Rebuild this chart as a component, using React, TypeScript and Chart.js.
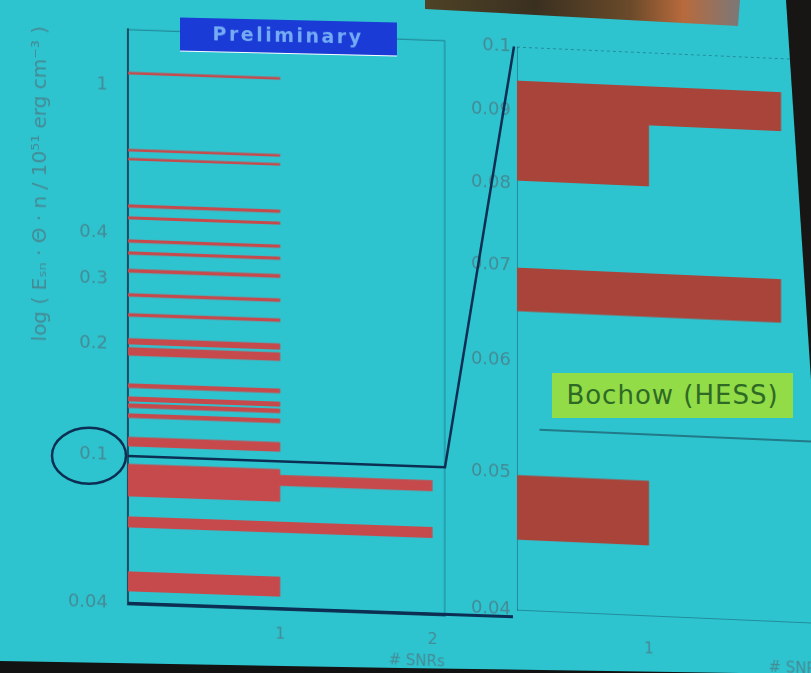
import React, { useEffect, useRef } from "react";
import { Chart, registerables } from "chart.js";

Chart.register(...registerables);

// ---------- data ----------
// Left panel ("Preliminary"): histogram bins on a log axis, count = # SNRs
const leftLow = [0.0431, 0.0641, 0.0777, 0.0859, 0.092, 0.1061, 0.1266, 0.1348, 0.1407, 0.1526, 0.1867, 0.2, 0.2379, 0.2694, 0.313, 0.35, 0.377, 0.436, 0.469, 0.63, 0.665, 1.074];
const leftHigh = [0.0488, 0.0687, 0.0859, 0.092, 0.0954, 0.1129, 0.1306, 0.139, 0.1451, 0.1574, 0.1975, 0.2088, 0.2439, 0.2762, 0.321, 0.358, 0.386, 0.445, 0.48, 0.641, 0.678, 1.094];
const leftCount = [1, 2, 1, 2, 1, 1, 1, 1, 1, 1, 1, 1, 1, 1, 1, 1, 1, 1, 1, 1, 1, 1];

// Right panel (Bochow, HESS): zoom on 0.04 - 0.1
const hessLow = [0.0448, 0.065, 0.0804, 0.0888];
const hessHigh = [0.0498, 0.0698, 0.0888, 0.0946];
const hessCount = [1, 2, 1, 2];

// axes
const leftYTicks = [0.04, 0.1, 0.2, 0.3, 0.4, 1];
const leftYLabels = ["0.04", "0.1", "0.2", "0.3", "0.4", "1"];
const leftXTicks = [1, 2];
const leftXLabels = ["1", "2"];
const hessYTicks = [0.04, 0.05, 0.06, 0.07, 0.08, 0.09, 0.1];
const hessYLabels = ["0.04", "0.05", "0.06", "0.07", "0.08", "0.09", "0.1"];
const hessXTicks = [1];
const hessXLabels = ["1"];
const leftYRange = [0.04, 1.425];
const leftXRange = [0, 2.08];
const hessYRange = [0.04, 0.1];
const hessXRange = [0, 2.33];
const zoomLow = 0.04;
const zoomHigh = 0.1;
const bochowLevel = 0.0537;
const bochowStart = 0.17;

const yTitle = "log ( E\u209B\u2099 \u00B7 \u0398 \u00B7 n / 10\u2075\u00B9 erg cm\u207B\u00B3 )";
const xTitle = "# SNRs";

// ---------- style ----------
const BG = "#2dc4d0";
const FONT = "DejaVu Sans";
const TICK = "#448a94";
const NAVY = "#0c2e52";
const LEFT_BAR = "#c64a4c";
const RIGHT_BAR = "#a9443a";
const RIGHT_OFFSET = 460;
// the photographed slide is slightly sheared
const LEFT_SKEW = 2.0;
const LEFT_ORIGIN_X = 175;
const RIGHT_SKEW = 2.5;
const RIGHT_ORIGIN_X = 640;
const tL = Math.tan((LEFT_SKEW * Math.PI) / 180);
const tR = Math.tan((RIGHT_SKEW * Math.PI) / 180);
const mapL = (x: number, y: number): [number, number] => [x, y + (x - LEFT_ORIGIN_X) * tL];
const mapR = (x: number, y: number): [number, number] => [x, y + (x - RIGHT_ORIGIN_X) * tR];

// one stepped, filled outline per run of touching bins (no seams between them)
function barDatasets(lo: number[], hi: number[], cnt: number[], color: string) {
  const groups: { x: number; y: number }[][] = [];
  lo.forEach((l, i) => {
    const touching = i > 0 && Math.abs(l - hi[i - 1]) < 1e-9;
    const pts = [
      { x: cnt[i], y: l },
      { x: cnt[i], y: hi[i] },
    ];
    if (touching) groups[groups.length - 1].push(...pts);
    else groups.push(pts);
  });
  return groups.map((data) => ({
    data,
    backgroundColor: color,
    borderColor: color,
    borderWidth: 0,
    pointRadius: 0,
    pointHoverRadius: 0,
    tension: 0,
    fill: "origin",
  }));
}

const framePlugin = (color: string, dash: number[]) => ({
  id: "frame",
  afterDraw(chart: any) {
    const { ctx, chartArea: a } = chart;
    ctx.save();
    ctx.strokeStyle = color;
    ctx.lineWidth = 1;
    ctx.setLineDash(dash);
    ctx.beginPath();
    ctx.moveTo(a.left, a.top + 0.5);
    ctx.lineTo(a.right, a.top + 0.5);
    ctx.lineTo(a.right, a.bottom);
    ctx.stroke();
    ctx.restore();
  },
});

function tickSetter(values: number[]) {
  return (axis: any) => {
    axis.ticks = values.map((v) => ({ value: v }));
  };
}
function labeler(values: number[], labels: string[]) {
  return (v: any) => {
    const i = values.findIndex((t) => Math.abs(t - Number(v)) < 1e-9);
    return i >= 0 ? labels[i] : "";
  };
}

function drawOverlay(cv: HTMLCanvasElement, left: any, right: any) {
  const ctx = cv.getContext("2d")!;
  ctx.clearRect(0, 0, cv.width, cv.height);
  const la = left.chartArea;
  const ra = right.chartArea;
  const ly = left.scales.y;
  const lx = left.scales.x;
  const ry = right.scales.y;
  const rx = right.scales.x;
  const line = (pts: [number, number][], w: number, color: string) => {
    ctx.strokeStyle = color;
    ctx.lineWidth = w;
    ctx.lineJoin = "miter";
    ctx.beginPath();
    pts.forEach(([x, y], i) => (i ? ctx.lineTo(x, y) : ctx.moveTo(x, y)));
    ctx.stroke();
  };

  // faint line under the Bochow label
  line(
    [
      mapR(RIGHT_OFFSET + rx.getPixelForValue(bochowStart), ry.getPixelForValue(bochowLevel)),
      mapR(RIGHT_OFFSET + rx.getPixelForValue(rx.max), ry.getPixelForValue(bochowLevel)),
    ],
    2,
    "rgba(25,60,75,0.55)"
  );

  // zoom connector (upper)
  line(
    [
      mapL(la.left, ly.getPixelForValue(zoomHigh)),
      mapL(lx.getPixelForValue(lx.max), ly.getPixelForValue(zoomHigh)),
      mapR(RIGHT_OFFSET + ra.left - 3, ry.getPixelForValue(zoomHigh)),
    ],
    2.5,
    NAVY
  );
  // zoom connector (lower), continuing the left x axis to the right panel
  line(
    [mapL(la.left, ly.getPixelForValue(zoomLow)), mapL(RIGHT_OFFSET + ra.left - 4, ly.getPixelForValue(zoomLow))],
    3,
    NAVY
  );
  // circle around the 0.1 label
  const [cx, cy] = mapL(la.left - 39, ly.getPixelForValue(zoomHigh) + 1);
  ctx.strokeStyle = NAVY;
  ctx.lineWidth = 2.5;
  ctx.beginPath();
  ctx.ellipse(cx, cy, 37, 28, 0, 0, Math.PI * 2);
  ctx.stroke();
}

export default function App() {
  const leftRef = useRef<HTMLCanvasElement>(null);
  const rightRef = useRef<HTMLCanvasElement>(null);
  const overRef = useRef<HTMLCanvasElement>(null);

  useEffect(() => {
    const tickFont = { family: FONT, size: 18 };
    const left = new Chart(leftRef.current!, {
      type: "line",
      data: { datasets: barDatasets(leftLow, leftHigh, leftCount, LEFT_BAR) as any },
      options: {
        animation: false,
        responsive: false,
        indexAxis: "y",
        events: [],
        layout: { padding: { top: 30, right: 25, left: 0, bottom: 0 } },
        plugins: { legend: { display: false }, tooltip: { enabled: false } },
        scales: {
          x: {
            type: "linear",
            min: leftXRange[0],
            max: leftXRange[1],
            afterBuildTicks: tickSetter(leftXTicks),
            afterFit: (s: any) => {
              s.height = 68;
            },
            grid: { display: false, drawTicks: false },
            border: { display: true, color: "#123f5a", width: 3 },
            ticks: { padding: 16, color: TICK, font: { family: FONT, size: 16 }, callback: labeler(leftXTicks, leftXLabels) },
            title: { display: true, text: xTitle, align: "end", color: TICK, font: { family: FONT, size: 15 }, padding: { top: 0, bottom: 11 } },
          },
          y: {
            type: "logarithmic",
            min: leftYRange[0],
            max: leftYRange[1],
            afterBuildTicks: tickSetter(leftYTicks),
            afterFit: (s: any) => {
              s.width = 128;
            },
            grid: { display: false, drawTicks: false },
            border: { display: true, color: "#1a4a62", width: 2 },
            ticks: { padding: 20, color: TICK, font: tickFont, callback: labeler(leftYTicks, leftYLabels) },
            title: { display: true, text: yTitle, align: "end", color: TICK, font: { family: FONT, size: 20 }, padding: { top: 29, bottom: 0 } },
          },
        },
      } as any,
      plugins: [framePlugin("rgba(20,70,90,0.55)", [])],
    });

    const right = new Chart(rightRef.current!, {
      type: "line",
      data: { datasets: barDatasets(hessLow, hessHigh, hessCount, RIGHT_BAR) as any },
      options: {
        animation: false,
        responsive: false,
        indexAxis: "y",
        events: [],
        layout: { padding: { top: 52, right: 35, left: 0, bottom: 0 } },
        plugins: { legend: { display: false }, tooltip: { enabled: false } },
        scales: {
          x: {
            type: "linear",
            min: hessXRange[0],
            max: hessXRange[1],
            afterBuildTicks: tickSetter(hessXTicks),
            afterFit: (s: any) => {
              s.height = 58;
            },
            grid: { display: false, drawTicks: false },
            border: { display: true, color: "rgba(20,70,90,0.45)", width: 1, dash: [3, 3] },
            ticks: { padding: 24, color: TICK, font: { family: FONT, size: 16 }, callback: labeler(hessXTicks, hessXLabels) },
            title: { display: true, text: xTitle, align: "end", color: TICK, font: { family: FONT, size: 15 }, padding: { top: 0, bottom: 2 } },
          },
          y: {
            type: "logarithmic",
            min: hessYRange[0],
            max: hessYRange[1],
            afterBuildTicks: tickSetter(hessYTicks),
            afterFit: (s: any) => {
              s.width = 57;
            },
            grid: { display: false, drawTicks: false },
            border: { display: true, color: "rgba(20,70,90,0.45)", width: 1, dash: [3, 3] },
            ticks: { padding: 6, color: TICK, font: tickFont, callback: labeler(hessYTicks, hessYLabels) },
          },
        },
      } as any,
      plugins: [framePlugin("rgba(20,70,90,0.45)", [3, 3])],
    });

    drawOverlay(overRef.current!, left, right);

    return () => {
      left.destroy();
      right.destroy();
    };
  }, []);

  return (
    <div
      style={{
        position: "fixed",
        left: 0,
        top: 0,
        width: 811,
        height: 673,
        overflow: "hidden",
        background: BG,
      }}
    >
      <canvas
        ref={leftRef}
        width={470}
        height={673}
        style={{
          position: "absolute",
          left: 0,
          top: 0,
          transform: `skewY(${LEFT_SKEW}deg)`,
          transformOrigin: `${LEFT_ORIGIN_X}px 0px`,
        }}
      />
      <canvas
        ref={rightRef}
        width={400}
        height={673}
        style={{
          position: "absolute",
          left: RIGHT_OFFSET,
          top: 0,
          transform: `skewY(${RIGHT_SKEW}deg)`,
          transformOrigin: `${RIGHT_ORIGIN_X - RIGHT_OFFSET}px 0px`,
        }}
      />
      <canvas
        ref={overRef}
        width={811}
        height={673}
        style={{ position: "absolute", left: 0, top: 0, pointerEvents: "none" }}
      />
      <div
        style={{
          position: "absolute",
          left: 180,
          top: 20,
          width: 216,
          height: 33,
          background: "#1a3bd6",
          color: "#74abf4",
          fontFamily: FONT,
          fontSize: 19,
          fontWeight: 600,
          letterSpacing: 2.5,
          lineHeight: "31px",
          textAlign: "center",
          transform: "skewY(1.3deg)",
        }}
      >
        Preliminary
      </div>
      <div
        style={{
          position: "absolute",
          left: 552,
          top: 373,
          width: 241,
          height: 45,
          background: "#92dc48",
          color: "#2f6a25",
          fontFamily: FONT,
          fontSize: 26,
          letterSpacing: 1,
          lineHeight: "45px",
          textAlign: "center",
          whiteSpace: "nowrap",
        }}
      >
        Bochow (HESS)
      </div>
      <svg width={811} height={673} style={{ position: "absolute", left: 0, top: 0, pointerEvents: "none" }}>
        <defs>
          <linearGradient id="photo" x1="0" x2="1" y1="0" y2="0">
            <stop offset="0" stopColor="#4e4326" />
            <stop offset="0.35" stopColor="#3a3020" />
            <stop offset="0.65" stopColor="#6a4a2a" />
            <stop offset="0.82" stopColor="#b86a3c" />
            <stop offset="1" stopColor="#7a7878" />
          </linearGradient>
        </defs>
        <polygon points="425,0 740,0 738,26 425,9" fill="url(#photo)" />
        <polygon points="786,0 811,0 811,380" fill="#171614" />
        <polygon points="0,661 400,668 740,673 0,673" fill="#121212" />
      </svg>
    </div>
  );
}
